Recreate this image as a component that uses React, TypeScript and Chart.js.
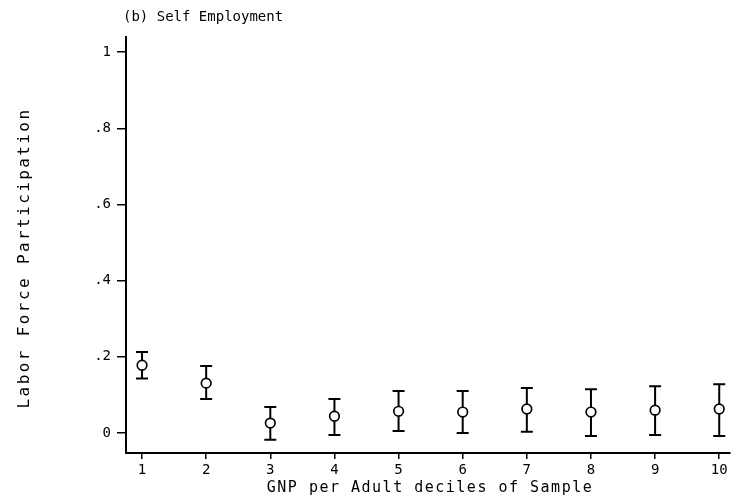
import React, { useEffect, useRef } from "react";
import { Chart, registerables } from "chart.js";

Chart.register(...registerables);

const deciles = [1, 2, 3, 4, 5, 6, 7, 8, 9, 10];
const means = [0.178, 0.131, 0.026, 0.044, 0.057, 0.055, 0.063, 0.055, 0.06, 0.063];
const upper = [0.213, 0.176, 0.068, 0.089, 0.11, 0.11, 0.118, 0.115, 0.123, 0.128];
const lower = [0.143, 0.089, -0.018, -0.005, 0.005, 0.0, 0.003, -0.008, -0.005, -0.008];
const yTicks = [0, 0.2, 0.4, 0.6, 0.8, 1];
const yTickLabels = ["0", ".2", ".4", ".6", ".8", "1"];
const titleText = "(b) Self Employment";
const xTitle = "GNP per Adult deciles of Sample";
const yTitle = "Labor Force Participation";

const MONO = "'DejaVu Sans Mono', monospace";

const errorBarPlugin = {
  id: "errorBars",
  beforeDatasetsDraw(chart: any) {
    const { ctx, scales } = chart;
    const xs = scales.x;
    const ys = scales.y;
    ctx.save();
    ctx.strokeStyle = "#000";
    ctx.lineWidth = 2;
    for (let i = 0; i < deciles.length; i++) {
      const x = xs.getPixelForValue(deciles[i]);
      const yu = ys.getPixelForValue(upper[i]);
      const yl = ys.getPixelForValue(lower[i]);
      ctx.beginPath();
      ctx.moveTo(x, yu);
      ctx.lineTo(x, yl);
      ctx.moveTo(x - 6, yu);
      ctx.lineTo(x + 6, yu);
      ctx.moveTo(x - 6, yl);
      ctx.lineTo(x + 6, yl);
      ctx.stroke();
    }
    ctx.restore();
  },
};

const textPlugin = {
  id: "texts",
  afterDraw(chart: any) {
    const { ctx } = chart;
    ctx.save();
    ctx.fillStyle = "#000";
    ctx.textBaseline = "middle";
    // title
    ctx.font = `14px ${MONO}`;
    ctx.textAlign = "left";
    (ctx as any).letterSpacing = "0px";
    ctx.fillText(titleText, 123, 17);
    // x title
    ctx.font = `15px ${MONO}`;
    (ctx as any).letterSpacing = "1.5px";
    ctx.textAlign = "center";
    ctx.fillText(xTitle, 430, 488);
    // y title
    ctx.translate(25, 258);
    ctx.rotate(-Math.PI / 2);
    ctx.font = `16px ${MONO}`;
    (ctx as any).letterSpacing = "2.4px";
    ctx.fillText(yTitle, 0, 0);
    ctx.restore();
  },
};

export default function App() {
  const ref = useRef<HTMLCanvasElement>(null);
  useEffect(() => {
    if (!ref.current) return;
    const chart = new Chart(ref.current, {
      type: "scatter",
      data: {
        datasets: [
          {
            data: deciles.map((d, i) => ({ x: d, y: means[i] })),
            pointStyle: "circle",
            pointRadius: 4.8,
            pointBorderWidth: 1.7,
            pointBorderColor: "#000",
            pointBackgroundColor: "#fff",
            showLine: false,
          },
        ],
      },
      options: {
        animation: false,
        responsive: false,
        devicePixelRatio: 1,
        layout: { padding: { top: 37, right: 6, left: 0, bottom: 0 } },
        plugins: { legend: { display: false }, tooltip: { enabled: false }, title: { display: false } },
        scales: {
          x: {
            type: "linear",
            min: 0.75,
            max: 10.16,
            afterBuildTicks: (scale: any) => {
              scale.ticks = deciles.map((v) => ({ value: v }));
            },
            afterFit: (scale: any) => {
              scale.height = 48;
            },
            border: { display: true, color: "#000", width: 2 },
            grid: { drawOnChartArea: false, drawTicks: true, tickLength: 6, color: "#000", lineWidth: 1.5 },
            ticks: {
              color: "#000",
              font: { family: MONO, size: 14 },
              padding: 3,
              maxRotation: 0,
              autoSkip: false,
              callback: (v: any) => String(v),
            },
          },
          y: {
            type: "linear",
            min: -0.0525,
            max: 1.04,
            afterBuildTicks: (scale: any) => {
              scale.ticks = yTicks.map((v) => ({ value: v }));
            },
            afterFit: (scale: any) => {
              scale.width = 126;
            },
            border: { display: true, color: "#000", width: 2 },
            grid: { drawOnChartArea: false, drawTicks: true, tickLength: 9, color: "#000", lineWidth: 1.5 },
            ticks: {
              color: "#000",
              font: { family: MONO, size: 14 },
              padding: 6,
              autoSkip: false,
              callback: (v: any) => {
                const idx = yTicks.findIndex((t) => Math.abs(t - v) < 1e-9);
                return idx >= 0 ? yTickLabels[idx] : "";
              },
            },
          },
        },
      },
      plugins: [errorBarPlugin, textPlugin],
    });
    return () => chart.destroy();
  }, []);
  return (
    <div style={{ position: "fixed", left: 0, top: 0, width: 736, height: 501, background: "#fff" }}>
      <canvas ref={ref} width={736} height={501} style={{ display: "block" }} />
    </div>
  );
}
